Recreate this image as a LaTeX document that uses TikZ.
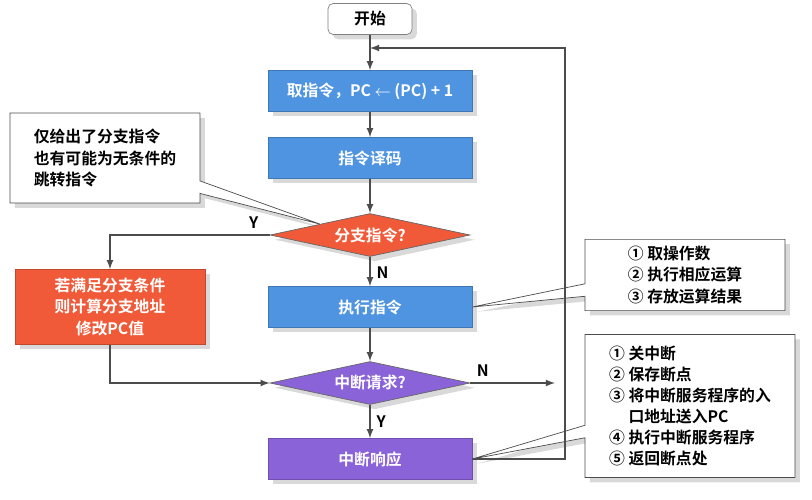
\documentclass[tikz,border=0pt]{standalone}
\usepackage{fontspec}
\setmainfont{Noto Sans CJK SC Bold}
\usetikzlibrary{shapes,shapes.callouts,arrows,positioning,shadows}
\definecolor{stepblue}{HTML}{4F94E0}
\definecolor{branchred}{HTML}{F05A38}
\definecolor{irqpurple}{HTML}{8A63D8}
\begin{document}
\begin{tikzpicture}[x=0.02cm,y=-0.02cm]
            \tikzstyle{every node}=[font=\fontsize{9}{12}\selectfont]
            \tikzstyle{stage}=[rectangle,minimum width=4.08cm,minimum height=0.82cm,text=white,draw=stepblue!80!black,fill=stepblue,drop shadow={opacity=0.3}]
            \tikzstyle{test}=[diamond,aspect=4.7,inner sep=1pt,minimum width=4cm,minimum height=0.86cm,text=white,draw=black!60,drop shadow={opacity=0.3}]
            \tikzstyle{note}=[rectangle callout,draw=black!70,fill=white,align=left,inner sep=4pt,drop shadow={opacity=0.3}]
            \tikzstyle{flow}=[draw=black!70,thick,-latex]

            \useasboundingbox (0,0) rectangle (812,500);

            \node[rectangle,rounded corners=3pt,draw=black!50,fill=white,minimum width=1.68cm,minimum height=0.62cm,drop shadow={opacity=0.3}] (start) at (370,19) {开始};
            \node[stage] (fetch) at (370,91) {取指令，PC $\leftarrow$ (PC) + 1};
            \node[stage] (decode) at (370,158) {指令译码};
            \node[test,fill=branchred] (branch) at (370,235) {分支指令?};
            \node[stage] (exec) at (370,307) {执行指令};
            \node[test,fill=irqpurple] (irq) at (370,383) {中断请求?};
            \node[stage,fill=irqpurple,draw=irqpurple!80!black] (resp) at (370,459) {中断响应};
            \node[rectangle,fill=branchred,draw=branchred!80!black,text=white,align=center,minimum width=3.8cm,minimum height=1.5cm,drop shadow={opacity=0.3}] (jump) at (110,307) {若满足分支条件\\则计算分支地址\\修改PC值};

            \node[note,minimum width=3.8cm,minimum height=1.8cm,callout absolute pointer=(branch.north west)] (n1) at (105,158) {仅给出了分支指令\\也有可能为无条件的\\跳转指令};
            \node[note,minimum width=4cm,minimum height=1.4cm,callout absolute pointer=(exec.east)] (n2) at (685,275) {① 取操作数\\② 执行相应运算\\③ 存放运算结果};
            \node[note,minimum width=4.2cm,minimum height=2.86cm,callout absolute pointer=(resp.east)] (n3) at (690,406) {① 关中断\\② 保存断点\\③ 将中断服务程序的入\\\phantom{③ }口地址送入PC\\④ 执行中断服务程序\\⑤ 返回断点处};

            \coordinate (back) at (565,459);
            \coordinate (top) at (565,48);
            \coordinate (join) at (370,48);
            \coordinate (irqout) at (555,383);

            \path[flow] (start) -- (fetch);
            \path[flow] (fetch) -- (decode);
            \path[flow] (decode) -- (branch);
            \path[flow] (branch) -- node[right,pos=0.55,text=black] {N} (exec);
            \path[flow] (exec) -- (irq);
            \path[flow] (irq) -- node[right,pos=0.5,text=black] {Y} (resp);
            \path[flow] (branch.west) -| node[above,pos=0.05,text=black] {Y} (jump.north);
            \path[flow] (jump.south) |- (irq.west);
            \path[flow] (irq.east) -- node[above right,pos=0.0,text=black] {N} (irqout);
            \path[flow] (resp.east) -- (back) -- (top) -- (join);
        \end{tikzpicture}
\end{document}
